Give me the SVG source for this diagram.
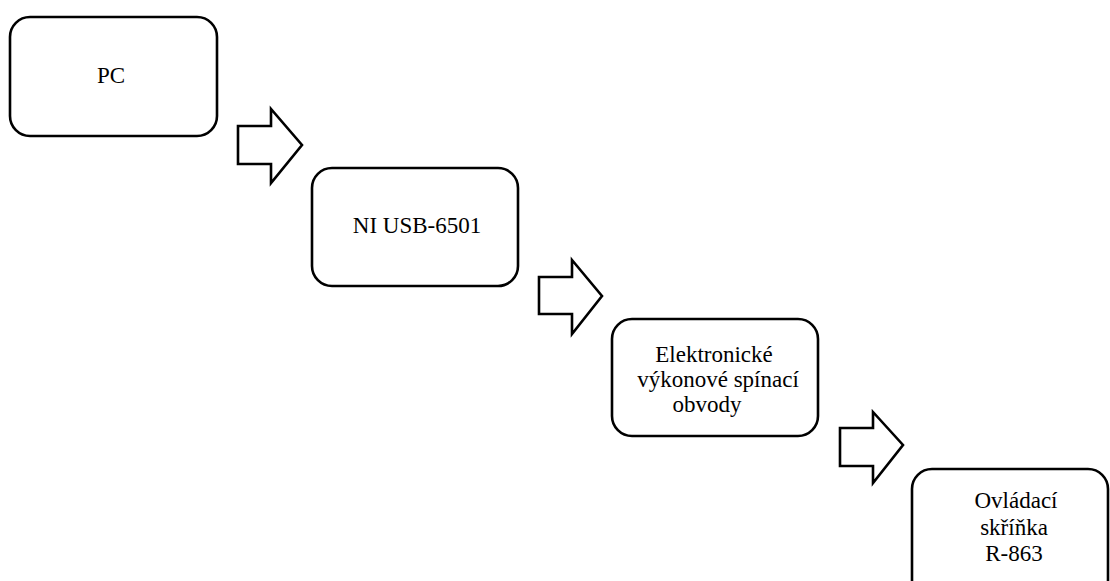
<svg xmlns="http://www.w3.org/2000/svg" width="1110" height="581" viewBox="0 0 1110 581">
<style>
.box{fill:#fff;stroke:#000;stroke-width:2.6}
.arr{fill:#fff;stroke:#000;stroke-width:2.6;stroke-linejoin:miter}
.t{font-family:'Liberation Serif','Times New Roman','DejaVu Serif',serif;font-size:23px;fill:#000;text-anchor:middle}
</style>
<rect width="1110" height="581" fill="#fff"/>
<g id="connectors">
<polygon class="arr" points="238,126 271,126 271,109 302,145 271,183 271,164 238,164"/>
<polygon class="arr" points="539,277 572,277 572,260 602,296 572,334 572,314 539,314"/>
<polygon class="arr" points="840,428 873,428 873,412 903,445 873,483 873,466 840,466"/>
</g>
<g id="pc">
<rect class="box" x="10" y="17" width="207" height="119" rx="20"/>
<text class="t" x="111" y="83" font-family="Liberation Serif, serif">PC</text>
</g>
<g id="ni">
<rect class="box" x="312" y="168" width="206" height="118" rx="20"/>
<text class="t" x="417" y="233" font-family="Liberation Serif, serif">NI USB-6501</text>
</g>
<g id="obvody">
<rect class="box" x="612" y="319" width="206" height="117" rx="20"/>
<text class="t" x="714" y="362" font-family="Liberation Serif, serif">Elektronické</text>
<text class="t" x="718" y="387" font-family="Liberation Serif, serif">výkonové spínací</text>
<text class="t" x="707" y="412" font-family="Liberation Serif, serif">obvody</text>
</g>
<g id="skrinka">
<rect class="box" x="912" y="469" width="196" height="140" rx="20"/>
<text class="t" x="1016" y="508" font-family="Liberation Serif, serif">Ovládací</text>
<text class="t" x="1014" y="535" font-family="Liberation Serif, serif">skříňka</text>
<text class="t" x="1014" y="561" font-family="Liberation Serif, serif">R-863</text>
</g>
</svg>
